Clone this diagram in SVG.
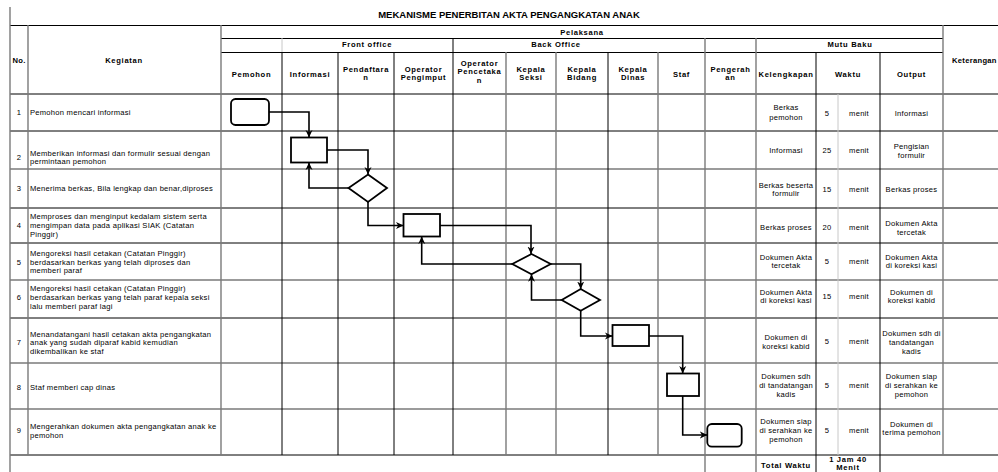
<svg xmlns="http://www.w3.org/2000/svg" width="998" height="472" viewBox="0 0 998 472">
<style>
.bg{fill:#fff}
.k{stroke:#000;stroke-width:1;fill:none}
.g{stroke:#7a7a7a;stroke-width:1.4;fill:none}
.lg{stroke:#c8c8c8;stroke-width:1;fill:none}
.t{font-family:"Liberation Sans",Arial,sans-serif;font-size:7.6px;letter-spacing:0.25px;fill:#000}
.c{text-anchor:middle}
.h{font-family:"Liberation Sans",Arial,sans-serif;font-size:7.6px;letter-spacing:0.7px;font-weight:bold;fill:#000;text-anchor:middle}
.title{font-family:"Liberation Sans",Arial,sans-serif;font-size:9.5px;font-weight:bold;fill:#000;text-anchor:middle}
.shape{fill:#fff;stroke:#000;stroke-width:1.8}
.conn{fill:none;stroke:#000;stroke-width:1.6;marker-end:url(#arr)}
</style>
<defs>
<marker id="arr" markerUnits="userSpaceOnUse" markerWidth="8" markerHeight="8" refX="7.5" refY="4" orient="auto">
<path d="M0,0.5 L7.5,4 L0,7.5 L2.2,4 Z" fill="#000"/>
</marker>
</defs>
<rect class="bg" x="0" y="0" width="998" height="472"/>
<text class="title" x="509" y="18">MEKANISME PENERBITAN AKTA PENGANGKATAN ANAK</text>

<g id="grid">
<line class="k" x1="10" y1="25.5" x2="998" y2="25.5"/>
<line class="k" x1="221" y1="38.5" x2="943" y2="38.5"/>
<line class="k" x1="221" y1="52.5" x2="943" y2="52.5"/>
<line class="k" x1="10" y1="94" x2="998" y2="94"/>
<line class="k" x1="10" y1="131" x2="998" y2="131"/>
<line class="g" x1="10" y1="169" x2="998" y2="169"/>
<line class="k" x1="10" y1="208" x2="998" y2="208"/>
<line class="k" x1="10" y1="243" x2="998" y2="243"/>
<line class="g" x1="10" y1="280" x2="998" y2="280"/>
<line class="k" x1="10" y1="318" x2="998" y2="318"/>
<line class="g" x1="10" y1="363" x2="998" y2="363"/>
<line class="g" x1="10" y1="409" x2="998" y2="409"/>
<line class="k" x1="10" y1="455" x2="998" y2="455"/>

<line class="g" x1="10" y1="7" x2="10" y2="472"/>
<line class="g" x1="28" y1="25" x2="28" y2="455"/>
<line class="g" x1="221" y1="25" x2="221" y2="455"/>
<line class="g" x1="943" y1="25" x2="943" y2="455"/>
<line class="k" x1="282" y1="52" x2="282" y2="455"/>
<line class="lg" x1="282" y1="38" x2="282" y2="52"/>
<line class="k" x1="338" y1="52" x2="338" y2="455"/>
<line class="k" x1="394" y1="52" x2="394" y2="455"/>
<line class="k" x1="453" y1="38" x2="453" y2="455"/>
<line class="g" x1="506" y1="52" x2="506" y2="455"/>
<line class="g" x1="556" y1="52" x2="556" y2="455"/>
<line class="k" x1="608" y1="52" x2="608" y2="455"/>
<line class="g" x1="658" y1="52" x2="658" y2="455"/>
<line class="g" x1="705" y1="38" x2="705" y2="472"/>
<line class="g" x1="756" y1="38" x2="756" y2="472"/>
<line class="lg" x1="838" y1="94" x2="838" y2="455"/>
<line class="k" x1="816" y1="52" x2="816" y2="472"/>
<line class="k" x1="880" y1="52" x2="880" y2="472"/>
</g>

<g id="headers">
<text class="h" x="582" y="35">Pelaksana</text>
<text class="h" x="367" y="47">Front office</text>
<text class="h" x="556" y="47">Back Office</text>
<text class="h" x="850" y="47">Mutu Baku</text>
<text class="h" x="19" y="63" style="letter-spacing:0.3px">No.</text>
<text class="h" x="124" y="63">Kegiatan</text>
<text class="h" x="952" y="63" style="text-anchor:start;letter-spacing:0.3px">Keterangan</text>
<text class="h" x="251.5" y="77">Pemohon</text>
<text class="h" x="310" y="77">Informasi</text>
<text class="h" x="366" y="71.5">Pendaftara</text>
<text class="h" x="366" y="80">n</text>
<text class="h" x="423.5" y="71.5">Operator</text>
<text class="h" x="423.5" y="80">Pengimput</text>
<text class="h" x="479.5" y="65.5">Operator</text>
<text class="h" x="479.5" y="74">Pencetaka</text>
<text class="h" x="479.5" y="82.5">n</text>
<text class="h" x="531" y="71.5">Kepala</text>
<text class="h" x="531" y="80">Seksi</text>
<text class="h" x="582" y="71.5">Kepala</text>
<text class="h" x="582" y="80">Bidang</text>
<text class="h" x="633" y="71.5">Kepala</text>
<text class="h" x="633" y="80">Dinas</text>
<text class="h" x="681.5" y="77">Staf</text>
<text class="h" x="730.5" y="71.5">Pengerah</text>
<text class="h" x="730.5" y="80">an</text>
<text class="h" x="786" y="77">Kelengkapan</text>
<text class="h" x="848" y="77">Waktu</text>
<text class="h" x="911.5" y="77">Output</text>
</g>

<g id="activities">
<text class="t c" x="19" y="115">1</text>
<text class="t" x="30" y="115">Pemohon mencari informasi</text>
<text class="t c" x="19" y="159.5">2</text>
<text class="t" x="30" y="155.5">Memberikan informasi dan formulir sesuai dengan</text>
<text class="t" x="30" y="164.1">permintaan pemohon</text>
<text class="t c" x="19" y="191">3</text>
<text class="t" x="30" y="191">Menerima berkas, Bila lengkap dan benar,diproses</text>
<text class="t c" x="19" y="228">4</text>
<text class="t" x="30" y="219.4">Memproses dan menginput kedalam sistem serta</text>
<text class="t" x="30" y="228">mengimpan data pada aplikasi SIAK (Catatan</text>
<text class="t" x="30" y="236.6">Pinggir)</text>
<text class="t c" x="19" y="264.6">5</text>
<text class="t" x="30" y="256">Mengoreksi hasil cetakan (Catatan Pinggir)</text>
<text class="t" x="30" y="264.6">berdasarkan berkas yang telah diproses dan</text>
<text class="t" x="30" y="273.2">memberi paraf</text>
<text class="t c" x="19" y="300">6</text>
<text class="t" x="30" y="291.4">Mengoreksi hasil cetakan (Catatan Pinggir)</text>
<text class="t" x="30" y="300">berdasarkan berkas yang telah paraf kepala seksi</text>
<text class="t" x="30" y="308.6">lalu memberi paraf lagi</text>
<text class="t c" x="19" y="345.1">7</text>
<text class="t" x="30" y="336.5">Menandatangani hasil cetakan akta pengangkatan</text>
<text class="t" x="30" y="345.1">anak yang sudah diparaf kabid kemudian</text>
<text class="t" x="30" y="353.7">dikembalikan ke staf</text>
<text class="t c" x="19" y="390">8</text>
<text class="t" x="30" y="390">Staf memberi cap dinas</text>
<text class="t c" x="19" y="433">9</text>
<text class="t" x="30" y="429">Mengerahkan dokumen akta pengangkatan anak ke</text>
<text class="t" x="30" y="437.6">pemohon</text>
</g>

<g id="mutu-baku">
<text class="t c" x="786" y="110">Berkas</text>
<text class="t c" x="786" y="120">pemohon</text>
<text class="t c" x="827" y="116">5</text>
<text class="t c" x="859" y="116">menit</text>
<text class="t c" x="911.5" y="116">Informasi</text>

<text class="t c" x="786" y="153">Informasi</text>
<text class="t c" x="827" y="153">25</text>
<text class="t c" x="859" y="153">menit</text>
<text class="t c" x="911.5" y="149">Pengisian</text>
<text class="t c" x="911.5" y="158">formulir</text>

<text class="t c" x="786" y="187.7">Berkas beserta</text>
<text class="t c" x="786" y="196.3">formulir</text>
<text class="t c" x="827" y="192">15</text>
<text class="t c" x="859" y="192">menit</text>
<text class="t c" x="911.5" y="192">Berkas proses</text>

<text class="t c" x="786" y="230">Berkas proses</text>
<text class="t c" x="827" y="230">20</text>
<text class="t c" x="859" y="230">menit</text>
<text class="t c" x="911.5" y="226">Dokumen Akta</text>
<text class="t c" x="911.5" y="235">tercetak</text>

<text class="t c" x="786" y="259.7">Dokumen Akta</text>
<text class="t c" x="786" y="268.3">tercetak</text>
<text class="t c" x="827" y="264">5</text>
<text class="t c" x="859" y="264">menit</text>
<text class="t c" x="911.5" y="259.7">Dokumen Akta</text>
<text class="t c" x="911.5" y="268.3">di koreksi kasi</text>

<text class="t c" x="786" y="294.7">Dokumen Akta</text>
<text class="t c" x="786" y="303.3">di koreksi kasi</text>
<text class="t c" x="827" y="299">15</text>
<text class="t c" x="859" y="299">menit</text>
<text class="t c" x="911.5" y="294.7">Dokumen di</text>
<text class="t c" x="911.5" y="303.3">koreksi kabid</text>

<text class="t c" x="786" y="340">Dokumen di</text>
<text class="t c" x="786" y="349">koreksi kabid</text>
<text class="t c" x="827" y="344">5</text>
<text class="t c" x="859" y="344">menit</text>
<text class="t c" x="911.5" y="336">Dokumen sdh di</text>
<text class="t c" x="911.5" y="345">tandatangan</text>
<text class="t c" x="911.5" y="354">kadis</text>

<text class="t c" x="786" y="379.4">Dokumen sdh</text>
<text class="t c" x="786" y="388">di tandatangan</text>
<text class="t c" x="786" y="396.6">kadis</text>
<text class="t c" x="827" y="388">5</text>
<text class="t c" x="859" y="388">menit</text>
<text class="t c" x="911.5" y="379.4">Dokumen siap</text>
<text class="t c" x="911.5" y="388">di serahkan ke</text>
<text class="t c" x="911.5" y="396.6">pemohon</text>

<text class="t c" x="786" y="424.4">Dokumen siap</text>
<text class="t c" x="786" y="433">di serahkan ke</text>
<text class="t c" x="786" y="441.6">pemohon</text>
<text class="t c" x="827" y="433">5</text>
<text class="t c" x="859" y="433">menit</text>
<text class="t c" x="911.5" y="426.5">Dokumen di</text>
<text class="t c" x="911.5" y="435.1">terima pemohon</text>

<text class="h" x="786" y="468">Total Waktu</text>
<text class="h" x="848" y="461.8">1 Jam 40</text>
<text class="h" x="848" y="470.3">Menit</text>
</g>

<g id="connectors">
<path class="conn" d="M269,112 H309 V137.5"/>
<path class="conn" d="M327,150 H368 V174.5"/>
<path class="conn" d="M348.5,188 H309 V162.5"/>
<path class="conn" d="M368,202 V225.5 H403.5"/>
<path class="conn" d="M440,225.5 H531 V254"/>
<path class="conn" d="M512.3,264 H421.7 V236.5"/>
<path class="conn" d="M550.7,264 H580.7 V289"/>
<path class="conn" d="M561.7,300 H531.5 V274.3"/>
<path class="conn" d="M580.7,310.7 V336 H612.5"/>
<path class="conn" d="M649,336 H682.7 V373.5"/>
<path class="conn" d="M682.7,396 V435 H707.3"/>
</g>

<g id="n1-start"><rect class="shape" x="231" y="99" width="38" height="26" rx="4.5"/></g>
<g id="n2-informasi"><rect class="shape" x="291" y="137.5" width="36" height="25"/></g>
<g id="n3-pendaftaran"><polygon class="shape" points="368,174.5 387,188 368,202 348.5,188"/></g>
<g id="n4-pengimput"><rect class="shape" x="403.5" y="214" width="36.5" height="22.5"/></g>
<g id="n5-kasi"><polygon class="shape" points="531.5,254 550.7,264 531.5,274.3 512.3,264"/></g>
<g id="n6-kabid"><polygon class="shape" points="580.7,289 600,300 580.7,310.7 561.7,300"/></g>
<g id="n7-kadis"><rect class="shape" x="612.5" y="325" width="36.5" height="21"/></g>
<g id="n8-staf"><rect class="shape" x="667" y="373.5" width="32" height="22.5"/></g>
<g id="n9-end"><rect class="shape" x="707.3" y="424" width="34.4" height="22.7" rx="4.5"/></g>
</svg>
